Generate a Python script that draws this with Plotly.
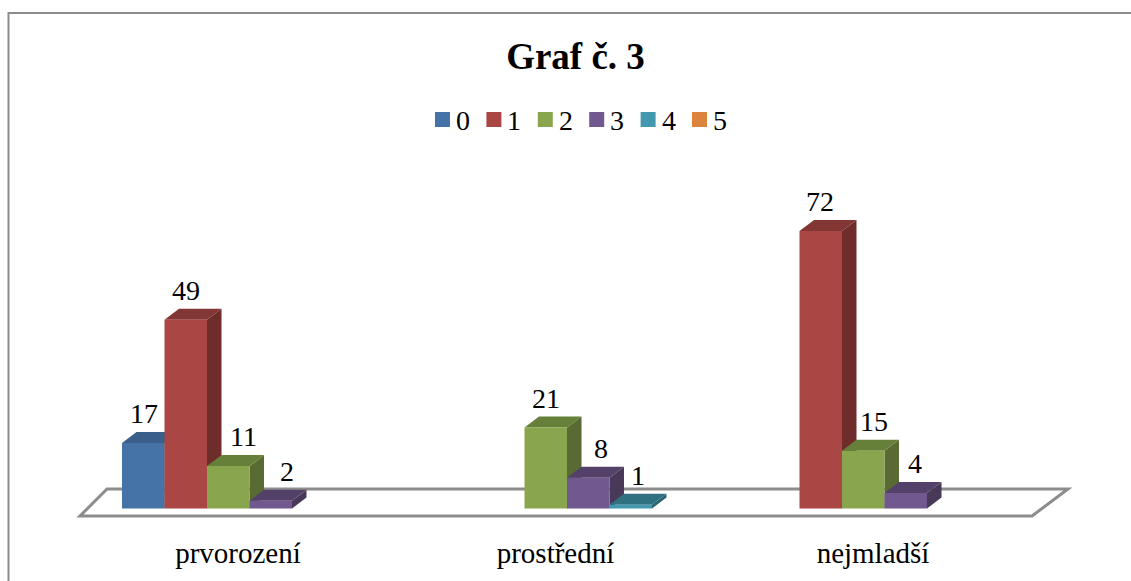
import plotly.graph_objects as go

# chart values
categories = ["prvorození", "prostřední", "nejmladší"]
series_names = ["0", "1", "2", "3", "4", "5"]
series_values = [
    [17, None, None],
    [49, None, 72],
    [11, 21, 15],
    [2, 8, 4],
    [None, 1, None],
    [None, None, None],
]
front_colors = ["#4572A7", "#AA4643", "#89A54E", "#71588F", "#4198AF", "#DB843D"]
side_colors = ["#34557D", "#6E2D2B", "#596B32", "#493959", "#2A6372", "#8E5527"]
top_colors = ["#3A5F8B", "#833735", "#668039", "#54416A", "#307181", "#A3622D"]

# the original nudges some value labels sideways, in pixels (series, category)
label_nudge = {(0, 0): 1, (1, 2): -1, (2, 0): 15, (3, 0): 16, (3, 1): 13,
               (4, 1): 7, (2, 2): 11, (3, 2): 9}

WIDTH, HEIGHT = 1131, 581
PLOT_BOTTOM = 533
PX_PER_CAT = 317.5
PX_PER_UNIT = 3.854
CENTER_0 = 249.5  # pixel of first group centre
BASE = 508.5  # pixel of value 0

bar_w = 42.5 / PX_PER_CAT
dx = 14.5 / PX_PER_CAT
dy = 11 / PX_PER_UNIT

x_range = [-CENTER_0 / PX_PER_CAT, (WIDTH - CENTER_0) / PX_PER_CAT]
y_range = [(BASE - PLOT_BOTTOM) / PX_PER_UNIT, BASE / PX_PER_UNIT]


def paper_x(px):
    return px / WIDTH


def paper_y(py):
    return 1 - py / PLOT_BOTTOM


fig = go.Figure()

# side and top faces go on the lower axes, so the next bar's front hides them
for i, values in enumerate(series_values):
    for c, v in enumerate(values):
        if v is None:
            continue
        x0 = c + (i - 3) * bar_w
        x1 = x0 + bar_w
        fig.add_trace(go.Scatter(
            x=[x1, x1 + dx, x1 + dx, x1, x1], y=[0, dy, v + dy, v, 0],
            mode="lines", line=dict(width=0), fill="toself",
            fillcolor=side_colors[i], showlegend=False, hoverinfo="skip"))
        fig.add_trace(go.Scatter(
            x=[x0, x1, x1 + dx, x0 + dx, x0], y=[v, v, v + dy, v + dy, v],
            mode="lines", line=dict(width=0), fill="toself",
            fillcolor=top_colors[i], showlegend=False, hoverinfo="skip"))

# front faces
for i, values in enumerate(series_values):
    fig.add_trace(go.Bar(
        x=list(range(len(categories))), y=values, name=series_names[i],
        marker=dict(color=front_colors[i], line=dict(width=0)),
        xaxis="x2", yaxis="y2", showlegend=False))

# value labels
for i, values in enumerate(series_values):
    for c, v in enumerate(values):
        if v is None:
            continue
        fig.add_annotation(
            x=c + (i - 2.5) * bar_w, y=v + dy, text=str(v), showarrow=False,
            yanchor="bottom", yshift=1, xshift=label_nudge.get((i, c), 0),
            xref="x", yref="y", font=dict(size=28, color="#000000"))

# legend, drawn by hand: plotly's own keeps too wide a gap after the swatch
for i, name in enumerate(series_names):
    left = 435 + i * 51.4
    fig.add_shape(type="rect", xref="paper", yref="paper",
                  x0=paper_x(left), x1=paper_x(left + 15),
                  y0=paper_y(112), y1=paper_y(127),
                  fillcolor=front_colors[i], line=dict(width=0))
    fig.add_annotation(x=paper_x(left + 19), y=paper_y(120.5), xref="paper", yref="paper",
                       text=name, showarrow=False, xanchor="left", yanchor="middle",
                       font=dict(size=28, color="#000000"))

# floor of the 3D box
floor_path = "M {} {} L {} {} L {} {} L {} {} Z".format(
    paper_x(80), paper_y(516), paper_x(1032), paper_y(516),
    paper_x(1068), paper_y(489), paper_x(107), paper_y(489))
fig.add_shape(type="path", path=floor_path, xref="paper", yref="paper",
              line=dict(color="#8C8C8C", width=3), layer="below")

# chart frame, right and bottom edges are cut off in the picture
fig.add_shape(type="rect", xref="paper", yref="paper",
              x0=paper_x(8.5), x1=paper_x(1200),
              y0=paper_y(13), y1=paper_y(700),
              line=dict(color="#8C8C8C", width=2), layer="below")

fig.update_layout(
    width=WIDTH, height=HEIGHT,
    margin=dict(l=0, r=0, t=0, b=HEIGHT - PLOT_BOTTOM, autoexpand=False),
    paper_bgcolor="white", plot_bgcolor="rgba(0,0,0,0)",
    font=dict(family="Liberation Serif", color="#000000", size=28),
    title=dict(text="<b>Graf č. 3</b>", x=575.5 / WIDTH, xanchor="center",
               y=1 - 56 / HEIGHT, yanchor="middle",
               font=dict(size=37, color="#000000")),
    barmode="group", bargap=1 - 6 * bar_w, bargroupgap=0,
    xaxis=dict(range=x_range, tickmode="array",
               tickvals=[c - 11.5 / PX_PER_CAT for c in range(len(categories))],
               ticktext=categories, ticks="", showgrid=False, zeroline=False,
               showline=False, tickfont=dict(size=29)),
    yaxis=dict(range=y_range, visible=False),
    xaxis2=dict(range=x_range, overlaying="x", visible=False),
    yaxis2=dict(range=y_range, overlaying="y", visible=False),
    showlegend=False,
)

fig.write_html("out.html", config={"displayModeBar": False},
               post_script="document.body.style.margin='0';document.body.style.overflow='hidden';")
